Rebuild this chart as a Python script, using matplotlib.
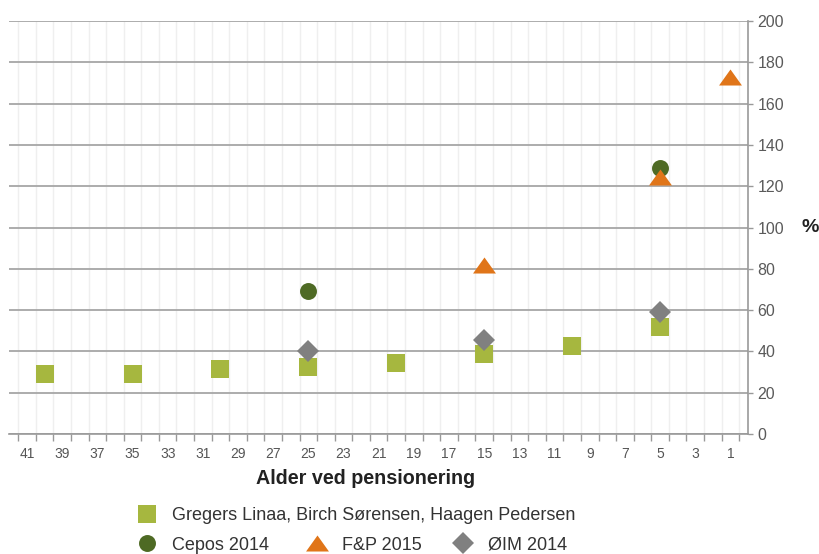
import matplotlib.pyplot as plt
import numpy as np

plt.rcParams['font.family'] = ['Liberation Sans', 'DejaVu Sans']

# data: years to retirement (x) and value in %
gls_x = [40, 35, 30, 25, 20, 15, 10, 5]
gls_y = [29, 29, 31.5, 32.3, 34.2, 38.6, 42.8, 52]
cepos_x = [25, 5]
cepos_y = [69.2, 128.7]
fp_x = [15, 5, 1]
fp_y = [82, 124.5, 173]
oim_x = [25, 15, 5]
oim_y = [40, 45.5, 59]

labels = ['Gregers Linaa, Birch Sørensen, Haagen Pedersen',
          'Cepos 2014', 'F&P 2015', 'ØIM 2014']
x_ticks = np.arange(41, 0, -2)
y_ticks = np.arange(0, 201, 20)

W, H = 820, 554
fig = plt.figure(figsize=(W/100, H/100), dpi=100)
ax = fig.add_axes([9.4/W, (H-434)/H, (748-9.4)/W, 413/H])

tri = [(-1, -0.7), (1, -0.7), (0, 0.7)]
l1, = ax.plot(gls_x, gls_y, ls='none', marker='s', ms=12.5, mew=0,
              color='#A6B73F', zorder=3)
l2, = ax.plot(cepos_x, cepos_y, ls='none', marker='o', ms=12.2, mew=0,
              color='#4E6A24', zorder=4)
l3, = ax.plot(fp_x, fp_y, ls='none', marker=tri, ms=16.5, mew=0,
              color='#E07519', zorder=5)
l4, = ax.plot(oim_x, oim_y, ls='none', marker='D', ms=11.3, mew=0,
              color='#808080', zorder=6)

ax.set_xlim(42, 0)
ax.set_ylim(0, 200)
ax.set_xticks(x_ticks)
ax.set_xticklabels([str(v) for v in x_ticks])
ax.set_xticks(np.arange(41.5, 0, -1), minor=True)
ax.tick_params(axis='x', which='major', length=0, pad=9, labelsize=10,
               labelcolor='#555555')
ax.tick_params(axis='x', which='minor', length=5, width=1, color='#999999')
ax.grid(axis='x', which='minor', color='#efefef', lw=1, zorder=0)

ax.yaxis.tick_right()
ax.set_yticks(y_ticks)
ax.tick_params(axis='y', length=3.5, width=1, color='#999999', pad=3.5,
               labelsize=11.5, labelcolor='#5a5a5a')
ax.grid(axis='y', which='major', color='#a6a6a6', lw=1.3, zorder=0)
ax.set_axisbelow(True)

for s in ['top', 'left']:
    ax.spines[s].set_visible(False)
for s in ['right', 'bottom']:
    ax.spines[s].set_color('#999999')
    ax.spines[s].set_linewidth(1.2)

fig.text(810/W, 1-227/H, '%', fontsize=14, fontweight='bold',
         ha='center', va='center', color='#222222')
fig.text(366/W, 1-478/H, 'Alder ved pensionering', fontsize=14.2,
         fontweight='bold', ha='center', va='center', color='#222222')

leg_kw = dict(frameon=False, fontsize=13, handlelength=0.9,
              handletextpad=0.93, borderpad=0, borderaxespad=0,
              numpoints=1, labelcolor='#333333', loc='center left')
# legend: one row for the first series, one row with the other three
fig.legend(handles=[l1], labels=[labels[0]],
           bbox_to_anchor=(139/W, 1-516/H), **leg_kw)
for h, lab, x0 in zip([l2, l3, l4], labels[1:], [139, 309, 455]):
    fig.legend(handles=[h], labels=[lab],
               bbox_to_anchor=(x0/W, 1-545/H), **leg_kw)

fig.savefig('out.png', dpi=100)
